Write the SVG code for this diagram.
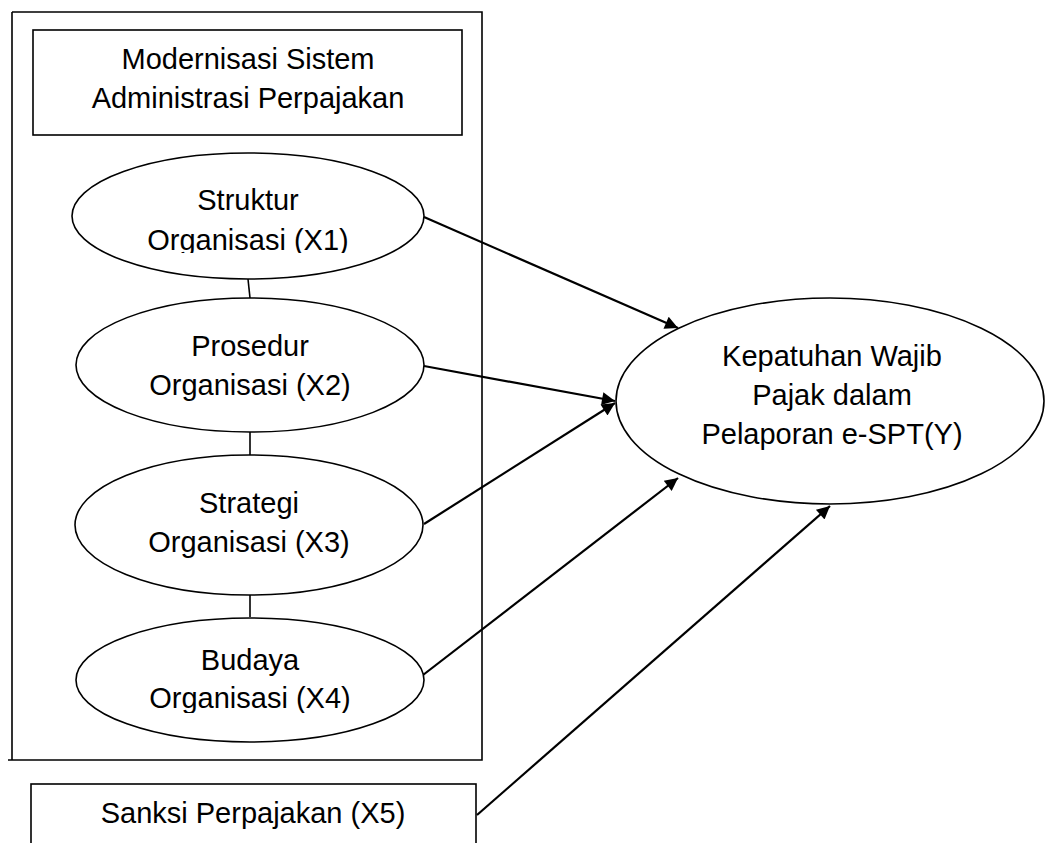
<svg xmlns="http://www.w3.org/2000/svg" width="1045" height="843" viewBox="0 0 1045 843">
  <style>
    .box { fill: none; stroke: #000; stroke-width: 1.6; }
    .node { fill: #fff; stroke: #000; stroke-width: 1.6; }
    .lbl { font-family: "Liberation Sans", Arial, sans-serif; font-size: 29px; fill: #000; text-anchor: middle; }
    .link { stroke: #000; stroke-width: 1.6; fill: none; }
    .arrow { stroke: #000; stroke-width: 2.2; fill: none; marker-end: url(#ah); }
  </style>
  <defs>
    <marker id="ah" viewBox="0 0 10 10" refX="10" refY="5" markerUnits="userSpaceOnUse" markerWidth="16" markerHeight="13" orient="auto">
      <path d="M0,0 L10,5 L0,10 Z" fill="#000"/>
    </marker>
    <clipPath id="c1"><rect x="60" y="150" width="380" height="103"/></clipPath>
    <clipPath id="c4"><rect x="60" y="610" width="380" height="103"/></clipPath>
  </defs>
  <rect width="1045" height="843" fill="#fff"/>

  <g id="group-modernisasi">
    <path class="box" d="M12,12 H482 V760 H8 M12,12 V760"/>
  </g>

  <g id="header-modernisasi">
    <rect class="box" x="33" y="30" width="429" height="105"/>
    <text class="lbl" x="248" y="69">Modernisasi Sistem</text>
    <text class="lbl" x="248" y="108">Administrasi Perpajakan</text>
  </g>

  <g id="connectors">
    <line class="link" x1="248" y1="279" x2="250" y2="298"/>
    <line class="link" x1="250" y1="432" x2="250" y2="455"/>
    <line class="link" x1="250" y1="595" x2="250" y2="617"/>
    <line class="arrow" x1="424" y1="217" x2="678" y2="328"/>
    <line class="arrow" x1="424" y1="366" x2="615" y2="401"/>
    <line class="arrow" x1="424" y1="524" x2="615" y2="403"/>
    <line class="arrow" x1="423" y1="675" x2="678" y2="478"/>
    <line class="arrow" x1="477" y1="815" x2="830" y2="506"/>
  </g>

  <g id="node-x1">
    <ellipse class="node" cx="248" cy="216" rx="176" ry="63"/>
    <g clip-path="url(#c1)">
      <text class="lbl" x="248" y="210">Struktur</text>
      <text class="lbl" x="248" y="250">Organisasi (X1)</text>
    </g>
  </g>

  <g id="node-x2">
    <ellipse class="node" cx="250" cy="365" rx="174" ry="67"/>
    <text class="lbl" x="250" y="356">Prosedur</text>
    <text class="lbl" x="250" y="395">Organisasi (X2)</text>
  </g>

  <g id="node-x3">
    <ellipse class="node" cx="249" cy="525" rx="174" ry="70"/>
    <text class="lbl" x="249" y="513">Strategi</text>
    <text class="lbl" x="249" y="552">Organisasi (X3)</text>
  </g>

  <g id="node-x4">
    <ellipse class="node" cx="250" cy="680" rx="174" ry="62"/>
    <g clip-path="url(#c4)">
      <text class="lbl" x="250" y="670">Budaya</text>
      <text class="lbl" x="250" y="708">Organisasi (X4)</text>
    </g>
  </g>

  <g id="node-x5">
    <rect class="box" x="31" y="784" width="445" height="80"/>
    <text class="lbl" x="253" y="823">Sanksi Perpajakan (X5)</text>
  </g>

  <g id="node-y">
    <ellipse class="node" cx="830" cy="401" rx="214" ry="103"/>
    <text class="lbl" x="832" y="366">Kepatuhan Wajib</text>
    <text class="lbl" x="832" y="405">Pajak dalam</text>
    <text class="lbl" x="832" y="444">Pelaporan e-SPT(Y)</text>
  </g>
</svg>
